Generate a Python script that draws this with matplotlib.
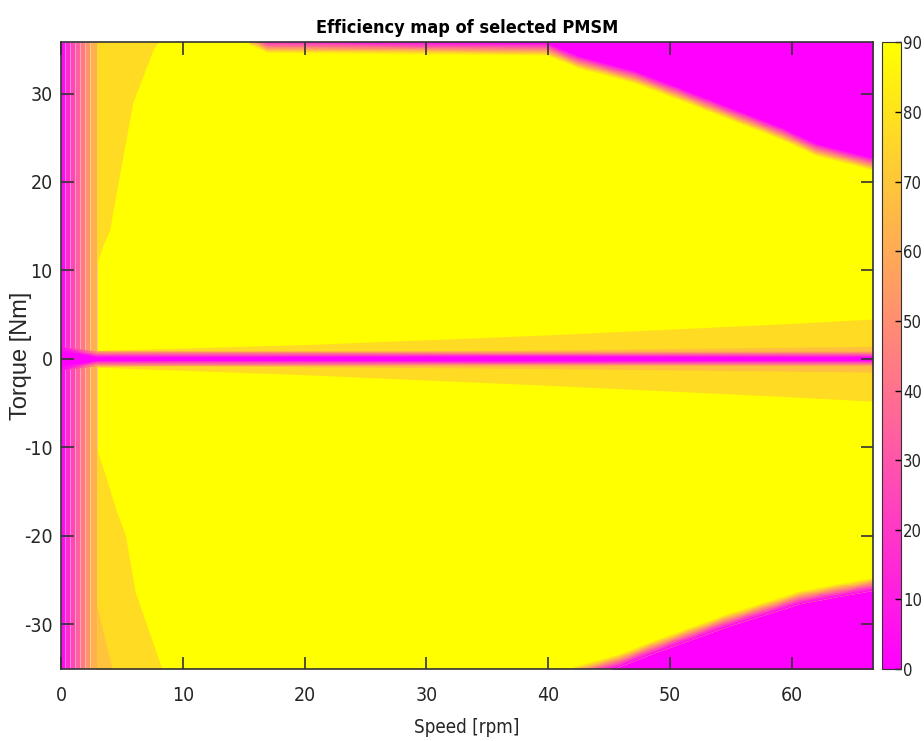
import numpy as np
import matplotlib
matplotlib.use('Agg')
import matplotlib.pyplot as plt
from matplotlib import font_manager as fm
from matplotlib.colors import Normalize
from matplotlib.cm import ScalarMappable

# look for a narrow sans font, like the one the original plot uses
narrow = None
for f in fm.fontManager.ttflist:
    if ('Narrow' in f.name or 'Condensed' in f.name or f.stretch in ('condensed', 'semi-condensed')) \
            and 'Mono' not in f.name and 'Serif' not in f.name:
        narrow = f
        break
if narrow is not None:
    plt.rcParams['font.family'] = [narrow.name, 'Liberation Sans', 'DejaVu Sans']
    if narrow.stretch != 'normal':
        plt.rcParams['font.stretch'] = narrow.stretch
    fs = 14
else:
    plt.rcParams['font.family'] = ['Liberation Sans', 'DejaVu Sans']
    fs = 12
plt.rcParams['axes.unicode_minus'] = False

# axis ranges
speed_lim = [0, 66.7]
torque_lim = [-35.1, 35.8]

# low speed efficiency columns (rpm edges, %)
low_speed_edges = [0, 0.33, 0.74, 1.15, 1.56, 1.97, 2.38, 2.93]
low_speed_eff = [4, 15, 25, 34, 43, 52, 62]

# ~77% region at low speed, top and bottom
top_gold_speed = [2.93, 3.0, 3.5, 4.0, 4.7, 5.9, 7.6, 8.0]
top_gold_torque = [10.5, 11, 13, 14.6, 20, 29, 35.1, 35.8]
bot_gold_speed = [2.93, 3.0, 3.6, 4.5, 5.3, 5.5, 6.1, 8.3]
bot_gold_torque = [-10, -10.5, -13, -17, -20, -21.6, -26.4, -35.1]
bot_orange_speed = [2.93, 4.2]
bot_orange_torque = [-27.9, -35.1]

# band around zero torque
band_speed = [2.93, 20, 40, 60, 66.7]
band_upper = [0.95, 1.6, 2.7, 4.0, 4.5]
band_lower = [-0.95, -1.8, -3.0, -4.3, -4.8]
inner_upper = [0.6, 0.8, 1.0, 1.3, 1.4]
inner_lower = [-0.6, -0.9, -1.1, -1.4, -1.5]

# low efficiency core at zero torque
core_speed = [0, 2.93, 66.7]
core_torque = [[-1.3, -0.8, -0.8],
               [-0.8, -0.2, -0.2],
               [0.8, 0.2, 0.2],
               [1.3, 0.8, 0.8]]
core_eff = [[4, 62, 66],
            [0, 0, 0],
            [0, 0, 0],
            [4, 62, 66]]

# max torque envelope (beyond = 0 %)
top_env_speed = [15.5, 17, 39.9, 42.6, 47.0, 50.3, 53.1, 56.1, 59.1, 62.1, 66.7]
top_env_torque = [36.2, 35.3, 35.0, 33.5, 31.9, 30.2, 28.7, 27.1, 25.5, 23.6, 22.0]
bot_env_speed = [42.0, 45.7, 48.7, 51.7, 54.7, 57.7, 60.7, 63.8, 66.7]
bot_env_torque = [-35.6, -34.2, -32.6, -31.1, -29.6, -28.3, -27.0, -26.2, -25.5]
env_halfwidth = 0.7

cmap = plt.get_cmap('spring')
norm = Normalize(0, 90)


def col(v):
    return cmap(norm(v))


fig = plt.figure(figsize=(9.24, 7.41), dpi=100)
ax = fig.add_axes([0.066, 0.097, 0.879, 0.846])
cax = fig.add_axes([0.9545, 0.097, 0.0206, 0.846])

ax.set_facecolor(col(90))

# all map layers stay below the ticks (axis zorder 2.5)
ax.pcolormesh(low_speed_edges, torque_lim, [low_speed_eff], cmap=cmap, norm=norm,
              shading='flat', edgecolors=(1, 1, 1, 0.35), linewidth=0.6, zorder=1.0)

ax.fill_betweenx(top_gold_torque, low_speed_edges[-1], top_gold_speed, color=col(77), lw=0, zorder=1.1)
ax.fill_betweenx(bot_gold_torque, low_speed_edges[-1], bot_gold_speed, color=col(77), lw=0, zorder=1.1)
ax.fill_betweenx(bot_orange_torque, low_speed_edges[-1], bot_orange_speed, color=col(69), lw=0, zorder=1.1)

ax.fill_between(band_speed, band_lower, band_upper, color=col(77), lw=0, zorder=1.2)
ax.fill_between(band_speed, inner_lower, inner_upper, color=col(68), lw=0, zorder=1.2)

cs = np.array(core_speed)
ax.pcolormesh(np.vstack([cs] * 4), np.array(core_torque), np.array(core_eff, dtype=float),
              cmap=cmap, norm=norm, shading='gouraud', zorder=1.3)

for sp, tq, side in [(top_env_speed, top_env_torque, 1), (bot_env_speed, bot_env_torque, -1)]:
    sp = np.array(sp)
    tq = np.array(tq)
    ax.pcolormesh(np.vstack([sp, sp]), np.vstack([tq - side * env_halfwidth, tq + side * env_halfwidth]),
                  np.array([[90.0] * len(sp), [0.0] * len(sp)]), cmap=cmap, norm=norm,
                  shading='gouraud', zorder=1.4)
    ax.fill_between(sp, tq + side * env_halfwidth, side * 40, color=col(0), lw=0, zorder=1.4)

ax.set_xlim(speed_lim)
ax.set_ylim(torque_lim)
ax.set_xticks([0, 10, 20, 30, 40, 50, 60])
ax.set_yticks([-30, -20, -10, 0, 10, 20, 30])
ax.tick_params(axis='both', direction='in', length=9, width=1.2, color='#333333',
               top=True, right=True, labelsize=fs, labelcolor='#262626')
ax.tick_params(axis='x', pad=12)
ax.tick_params(axis='y', pad=6)
for s in ax.spines.values():
    s.set_color('#333333')
    s.set_linewidth(1.2)
    s.set_zorder(6)

ax.set_title('Efficiency map of selected PMSM', fontsize=13, fontweight='bold', pad=7)
ax.set_xlabel('Speed [rpm]', fontsize=13.5, color='#262626')
ax.xaxis.set_label_coords(0.5, -0.078)
ax.set_ylabel('Torque [Nm]', fontsize=17, color='#262626', family=['Liberation Sans', 'DejaVu Sans'])
ax.yaxis.set_label_coords(-0.036, 0.5)

cb = fig.colorbar(ScalarMappable(norm=norm, cmap=cmap), cax=cax)
cb.set_ticks(range(0, 91, 10))
cb.ax.tick_params(labelsize=12, direction='in', length=4, width=1, pad=1.5, labelcolor='#262626')
cb.outline.set_edgecolor('#333333')

fig.savefig('out.png', dpi=100)
